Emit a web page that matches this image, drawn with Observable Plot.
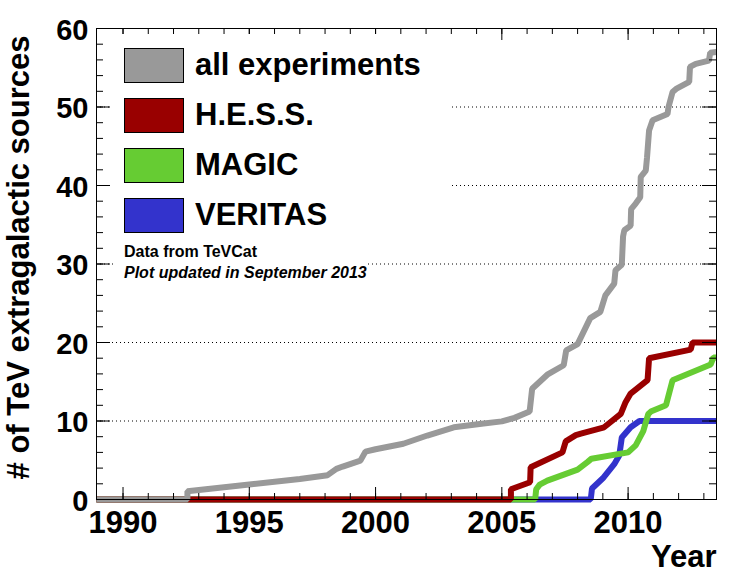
<!DOCTYPE html>
<html>
<head>
<meta charset="utf-8">
<script src="https://cdn.jsdelivr.net/npm/d3@7"></script>
<script src="https://cdn.jsdelivr.net/npm/@observablehq/plot@0.6"></script>
<style>
  html, body { margin: 0; padding: 0; background: white; }
  #wrap { position: relative; width: 746px; height: 574px; font-family: "Liberation Sans", Arial, Helvetica, sans-serif; }
  .pane { position: absolute; background: white; }
  .sw { position: absolute; box-sizing: border-box; border: 1px solid black; }
  .lt { position: absolute; font-weight: bold; font-size: 31px; line-height: 1; white-space: nowrap; color: black; }
  .note { position: absolute; font-weight: bold; font-size: 16px; line-height: 1; white-space: nowrap; color: black; }
</style>
</head>
<body>
<div id="wrap"></div>
<script>
// ---- data (year, cumulative number of sources) ----
const allExperiments = [
  [1988.95,0],[1992.55,0],[1992.55,1.05],[1995,1.9],[1997,2.6],[1998.1,3.1],[1998.45,3.9],
  [1998.7,4.2],[1999.4,4.95],[1999.6,6.1],[2000,6.4],[2001.1,7.1],[2002.05,8.15],[2003.1,9.2],
  [2004.2,9.65],[2005,9.95],[2005.5,10.4],[2006.1,11.2],[2006.2,14.1],[2006.8,15.9],
  [2007.45,17.1],[2007.55,19.0],[2008.0,19.8],[2008.5,23.1],[2008.9,23.9],[2009.1,26.0],
  [2009.45,27.5],[2009.5,29.2],[2009.75,29.9],[2009.8,33.5],[2009.85,34.3],[2010.1,34.9],
  [2010.12,37.0],[2010.3,37.7],[2010.48,38.5],[2010.5,41.1],[2010.7,41.9],[2010.75,43.6],
  [2010.83,47.0],[2010.97,48.3],[2011.56,49.1],[2011.6,50.0],[2011.76,51.9],[2011.9,52.3],
  [2012.42,53.2],[2012.45,55.1],[2012.68,55.5],[2013.2,55.9],[2013.25,56.9],[2013.5,57.0]
];
const hess = [
  [1988.95,0],[2005.36,0],[2005.36,1.3],[2006.12,2.2],[2006.14,4.1],[2007.4,6.0],[2007.53,7.4],
  [2007.93,8.2],[2008.13,8.4],[2009.05,9.2],[2009.71,10.9],[2009.9,12.4],[2010.1,13.5],
  [2010.77,15.2],[2010.83,18.0],[2012.48,19.1],[2012.55,20.0],[2013.5,20.0]
];
const magic = [
  [1988.95,0],[2006.32,0],[2006.36,1.3],[2006.5,1.9],[2006.8,2.4],[2008.0,3.8],[2008.4,4.8],
  [2008.55,5.2],[2010.0,6.0],[2010.3,6.9],[2010.6,8.7],[2010.8,10.9],[2010.9,11.2],
  [2011.5,12.0],[2011.76,15.2],[2013.27,17.2],[2013.38,18.1],[2013.5,18.1]
];
const veritas = [
  [1988.95,0],[2008.52,0],[2008.57,1.4],[2009.0,2.7],[2009.45,4.5],[2009.65,5.6],
  [2009.75,7.9],[2010.1,9.2],[2010.45,10.0],[2013.5,10.0]
];
const seriesNames = ["all experiments", "H.E.S.S.", "MAGIC", "VERITAS"];
const seriesColors = ["#999999", "#990000", "#66cc33", "#3333cc"];
const xMajor = [1990, 1995, 2000, 2005, 2010];
const xMinor = d3.range(1990, 2014, 1);
const yMajor = [0, 10, 20, 30, 40, 50, 60];
const yMinor = d3.range(0, 61, 2);
const yGrid = [10, 20, 30, 40, 50];
const xTitle = "Year";
const yTitle = "# of TeV extragalactic sources";
const notes = ["Data from TeVCat", "Plot updated in September 2013"];

const W = 746, H = 574, mL = 96, mR = 30, mT = 28, mB = 75;
const iW = W - mL - mR, iH = H - mT - mB;
const font = '"Liberation Sans", Arial, Helvetica, sans-serif';

const lineOpts = (data, color) => Plot.line(data, {
  x: d => d[0], y: d => d[1], stroke: color, strokeWidth: 6,
  strokeLinejoin: "miter", strokeLinecap: "butt"
});

const chart = Plot.plot({
  width: W, height: H,
  marginLeft: mL, marginRight: mR, marginTop: mT, marginBottom: mB,
  x: {domain: [1988.95, 2013.5]},
  y: {domain: [0, 60]},
  style: {fontFamily: font, background: "white", color: "black", overflow: "visible"},
  marks: [
    Plot.ruleY(yGrid, {y: d => d, stroke: "black", strokeWidth: 1, strokeDasharray: "1,3"}),
    lineOpts(veritas, seriesColors[3]),
    lineOpts(magic, seriesColors[2]),
    lineOpts(hess, seriesColors[1]),
    lineOpts(allExperiments, seriesColors[0]),
    // inward ticks on all four sides (ROOT style)
    Plot.ruleX(xMinor, {x: d => d, stroke: "black", insetTop: iH - 6}),
    Plot.ruleX(xMajor, {x: d => d, stroke: "black", insetTop: iH - 12}),
    Plot.ruleX(xMinor, {x: d => d, stroke: "black", insetBottom: iH - 6}),
    Plot.ruleX(xMajor, {x: d => d, stroke: "black", insetBottom: iH - 12}),
    Plot.ruleY(yMinor, {y: d => d, stroke: "black", insetRight: iW - 7}),
    Plot.ruleY(yMajor, {y: d => d, stroke: "black", insetRight: iW - 14}),
    Plot.ruleY(yMinor, {y: d => d, stroke: "black", insetLeft: iW - 7}),
    Plot.ruleY(yMajor, {y: d => d, stroke: "black", insetLeft: iW - 14}),
    Plot.frame({stroke: "black", strokeWidth: 1}),
    Plot.axisX({ticks: xMajor, tickSize: 0, tickPadding: 11, fontSize: 31, fontWeight: "bold",
      tickFormat: d => String(d), label: null}),
    Plot.axisY({ticks: yMajor, tickSize: 0, tickPadding: 8, fontSize: 29, fontWeight: "bold",
      dy: 2, label: null}),
    Plot.text([xTitle], {text: d => d, frameAnchor: "bottom-right", textAnchor: "end",
      lineAnchor: "bottom", dy: 67, fontSize: 31, fontWeight: "bold", fill: "black"}),
    Plot.text([yTitle], {text: d => d, frameAnchor: "top-left", rotate: -90, textAnchor: "end",
      lineAnchor: "bottom", dx: -67.5, dy: 7, fontSize: 31, fontWeight: "bold", fill: "black"})
  ]
});

const wrap = document.getElementById("wrap");
wrap.appendChild(chart);

// legend overlay (white panes hide the grid lines like the ROOT legend box)
const pane1 = document.createElement("div");
pane1.className = "pane";
Object.assign(pane1.style, {left: "111px", top: "34px", width: "339px", height: "208px"});
wrap.appendChild(pane1);
const pane2 = document.createElement("div");
pane2.className = "pane";
Object.assign(pane2.style, {left: "114px", top: "240px", width: "254px", height: "46px"});
wrap.appendChild(pane2);

seriesNames.forEach((name, i) => {
  const cy = 65 + 50.2 * i;
  const sw = document.createElement("div");
  sw.className = "sw";
  Object.assign(sw.style, {left: "124px", top: (cy - 17.5) + "px", width: "60px", height: "35px", background: seriesColors[i]});
  wrap.appendChild(sw);
  const t = document.createElement("div");
  t.className = "lt";
  t.textContent = name;
  Object.assign(t.style, {left: "195px", top: (cy + 10 - 0.8465 * 31) + "px"});
  wrap.appendChild(t);
});
notes.forEach((txt, i) => {
  const base = [257.7, 278.3][i];
  const t = document.createElement("div");
  t.className = "note";
  t.textContent = txt;
  Object.assign(t.style, {left: "124px", top: (base - 0.8465 * 16) + "px", fontStyle: i === 1 ? "italic" : "normal"});
  wrap.appendChild(t);
});
</script>
</body>
</html>
